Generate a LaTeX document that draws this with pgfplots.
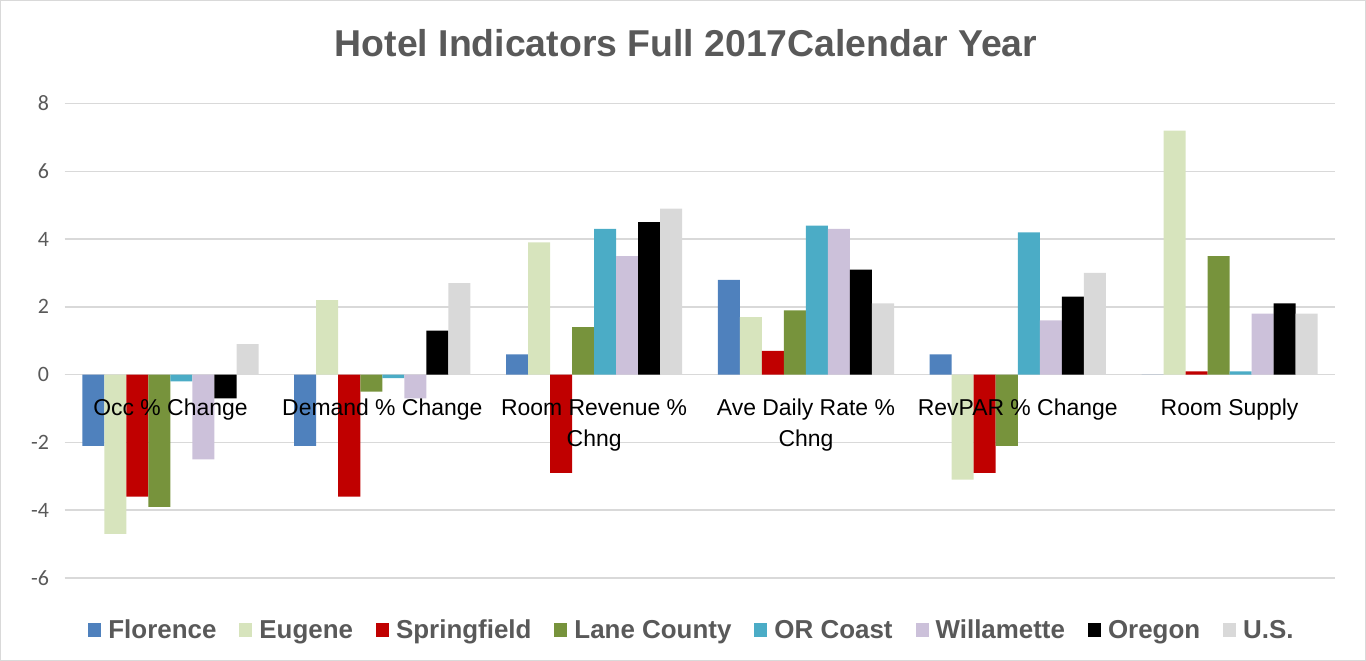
\documentclass[border=0pt]{standalone}
\usepackage{pgfplots}
\pgfplotsset{compat=1.18}
\usepackage{fontspec}
\setmainfont{Liberation Sans}
\newfontfamily\calib{Carlito}

\definecolor{cFlorence}{HTML}{4F81BD}
\definecolor{cEugene}{HTML}{D7E4BD}
\definecolor{cSpring}{HTML}{C00000}
\definecolor{cLane}{HTML}{77933C}
\definecolor{cCoast}{HTML}{4BACC6}
\definecolor{cWill}{HTML}{CCC1DA}
\definecolor{cOregon}{HTML}{000000}
\definecolor{cUS}{HTML}{D9D9D9}
\definecolor{txtgray}{HTML}{595959}
\definecolor{gridgray}{HTML}{D9D9D9}

\pgfplotsset{
  frame/.style={
    scale only axis,
    width=1270bp, height=474bp,
    xmin=-0.5, xmax=5.5,
    ymin=-6, ymax=8,
    axis x line=middle,
    axis y line=left,
    x axis line style={-, draw=gridgray, line width=1.5bp},
    y axis line style={draw=none},
    major tick length=0pt,
  }
}

\begin{document}
\begin{tikzpicture}
\begin{axis}[
    frame,
    ybar=0pt,
    bar width=22bp,
    ytick={-6,-4,...,8},
    xtick={0,...,5},
    xticklabels={},
    ymajorgrids,
    grid style={gridgray, line width=1.5bp},
    /pgf/number format/assume math mode=true,
    yticklabel style={font=\calib\fontsize{22}{26}\selectfont, text=txtgray, xshift=-12bp},
    title={Hotel Indicators Full 2017Calendar Year},
    title style={at={(0.5,1)}, anchor=base, yshift=41bp, xshift=-14bp,
                 font=\fontsize{37.5}{42}\selectfont\bfseries, text=txtgray},
    legend style={at={(0.5,0)}, anchor=center, yshift=-52bp, xshift=-8bp, draw=none,
                  font=\fontsize{26}{30}\selectfont\bfseries, text=txtgray,
                  legend columns=-1,
                  /tikz/every odd column/.append style={column sep=5bp},
                  /tikz/every even column/.append style={column sep=21bp}},
    legend image code/.code={\fill[#1] (0bp,-7bp) rectangle (13bp,7bp);},
    every axis plot/.append style={draw=none},
]
% Florence
\addplot[fill=cFlorence] coordinates {(0,-2.1) (1,-2.1) (2,0.6) (3,2.8) (4,0.6) (5,0)};
% Eugene
\addplot[fill=cEugene] coordinates {(0,-4.7) (1,2.2) (2,3.9) (3,1.7) (4,-3.1) (5,7.2)};
% Springfield
\addplot[fill=cSpring] coordinates {(0,-3.6) (1,-3.6) (2,-2.9) (3,0.7) (4,-2.9) (5,0.1)};
% Lane County
\addplot[fill=cLane] coordinates {(0,-3.9) (1,-0.5) (2,1.4) (3,1.9) (4,-2.1) (5,3.5)};
% OR Coast
\addplot[fill=cCoast] coordinates {(0,-0.2) (1,-0.1) (2,4.3) (3,4.4) (4,4.2) (5,0.1)};
% Willamette
\addplot[fill=cWill] coordinates {(0,-2.5) (1,-0.7) (2,3.5) (3,4.3) (4,1.6) (5,1.8)};
% Oregon
\addplot[fill=cOregon] coordinates {(0,-0.7) (1,1.3) (2,4.5) (3,3.1) (4,2.3) (5,2.1)};
% U.S.
\addplot[fill=cUS] coordinates {(0,0.9) (1,2.7) (2,4.9) (3,2.1) (4,3.0) (5,1.8)};
\legend{Florence,Eugene,Springfield,Lane County,OR Coast,Willamette,Oregon,U.S.}
\end{axis}
% second axis: category labels drawn over the bars
\begin{axis}[
    frame,
    x axis line style={draw=none},
    xtick={0,...,5},
    ytick=\empty,
    xticklabels={{Occ \% Change},{Demand \% Change},{Room Revenue \%\\Chng},{Ave Daily Rate \%\\Chng},{RevPAR \% Change},{Room Supply}},
    xticklabel style={font=\fontsize{23}{31}\selectfont, align=center, text=black, yshift=-21bp},
]
\end{axis}
\draw[gridgray, line width=1bp] ([xshift=-64bp,yshift=-82bp]current axis.south west)
    rectangle ([xshift=30bp,yshift=103bp]current axis.north east);
\end{tikzpicture}
\end{document}
